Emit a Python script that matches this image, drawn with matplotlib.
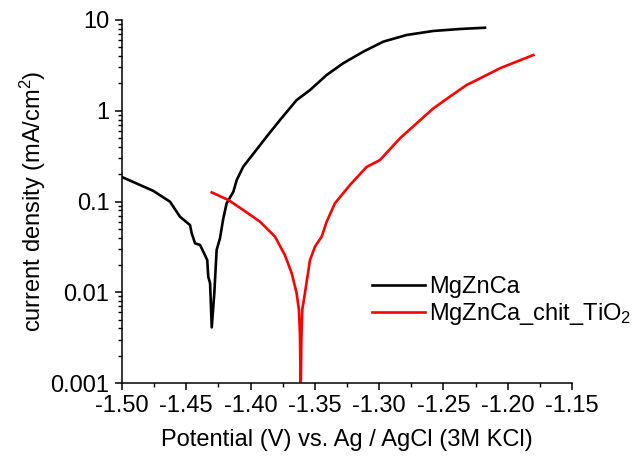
import matplotlib
matplotlib.use("Agg")
import matplotlib.pyplot as plt
from matplotlib.ticker import FixedLocator, LogLocator, NullFormatter, FixedFormatter

plt.rcParams['font.family'] = ['Liberation Sans', 'DejaVu Sans']
plt.rcParams['mathtext.fontset'] = 'custom'
plt.rcParams['mathtext.rm'] = 'Liberation Sans'
plt.rcParams['mathtext.it'] = 'Liberation Sans:italic'
plt.rcParams['mathtext.bf'] = 'Liberation Sans:bold'

# Polarisation curve of bare MgZnCa
v_bare = [-1.500, -1.486, -1.4757, -1.4627, -1.4549, -1.4471, -1.4458, -1.4432,
          -1.4393, -1.4355, -1.4337, -1.4329, -1.4315, -1.4302, -1.4282, -1.4264,
          -1.4238, -1.4212, -1.4186, -1.4134, -1.4108, -1.4057, -1.3966, -1.3875,
          -1.3771, -1.3642, -1.3538, -1.3408, -1.3279, -1.3123, -1.2968, -1.2786,
          -1.2579, -1.2372, -1.2177]
i_bare = [0.186, 0.152, 0.131, 0.0996, 0.068, 0.055, 0.0447, 0.0346,
          0.0332, 0.0257, 0.0226, 0.0148, 0.0126, 0.0041, 0.0098, 0.0292,
          0.0393, 0.0653, 0.0955, 0.128, 0.172, 0.242, 0.354, 0.518,
          0.791, 1.31, 1.69, 2.48, 3.34, 4.48, 5.77, 6.84,
          7.57, 7.96, 8.22]

# Polarisation curve of coated MgZnCa (chitosan / TiO2)
v_coat = [-1.4302, -1.4173, -1.4057, -1.3927, -1.381, -1.3733, -1.368, -1.3642,
          -1.3624, -1.3616, -1.3610, -1.3604, -1.3598, -1.3577, -1.3538, -1.3499,
          -1.3447, -1.3408, -1.3344, -1.3227, -1.3098, -1.2994, -1.2838, -1.2708,
          -1.2579, -1.245, -1.232, -1.219, -1.206, -1.193, -1.1801]
i_coat = [0.126, 0.104, 0.0806, 0.060, 0.041, 0.0257, 0.0162, 0.0098,
          0.0064, 0.0035, 0.0008, 0.0035, 0.0064, 0.0098, 0.0226, 0.0318,
          0.041, 0.060, 0.0955, 0.152, 0.24, 0.286, 0.497, 0.728,
          1.06, 1.43, 1.92, 2.37, 2.94, 3.48, 4.11]

x_ticks = [-1.50, -1.45, -1.40, -1.35, -1.30, -1.25, -1.20, -1.15]
x_tick_labels = ['-1.50', '-1.45', '-1.40', '-1.35', '-1.30', '-1.25', '-1.20', '-1.15']
y_ticks = [0.001, 0.01, 0.1, 1, 10]
y_tick_labels = ['0.001', '0.01', '0.1', '1', '10']

FS = 17

fig = plt.figure(figsize=(6.38, 4.57), dpi=100)
ax = fig.add_axes([122 / 638, 1 - 383 / 457, 450 / 638, 363 / 457])

ax.plot(v_bare, i_bare, color='black', lw=1.9, label='MgZnCa')
ax.plot(v_coat, i_coat, color='#ff0000', lw=1.9, label='MgZnCa_chit_TiO$_2$')

ax.set_yscale('log')
ax.set_xlim(-1.50, -1.15)
ax.set_ylim(0.001, 10)

ax.xaxis.set_major_locator(FixedLocator(x_ticks))
ax.xaxis.set_major_formatter(FixedFormatter(x_tick_labels))
ax.xaxis.set_minor_locator(FixedLocator([t + 0.025 for t in x_ticks[:-1]]))
ax.yaxis.set_major_locator(FixedLocator(y_ticks))
ax.yaxis.set_major_formatter(FixedFormatter(y_tick_labels))
ax.yaxis.set_minor_locator(LogLocator(base=10, subs=range(2, 10)))
ax.yaxis.set_minor_formatter(NullFormatter())

for side in ('top', 'right'):
    ax.spines[side].set_visible(False)
for side in ('left', 'bottom'):
    ax.spines[side].set_linewidth(1.1)

ax.tick_params(which='major', direction='out', length=5, width=1.1, labelsize=FS, pad=4)
ax.tick_params(which='minor', direction='out', length=3, width=1.0)

ax.set_xlabel('Potential (V) vs. Ag / AgCl (3M KCl)', fontsize=FS, labelpad=8)
ax.set_ylabel('current density (mA/cm$^2$)', fontsize=FS, labelpad=2)

ax.legend(loc='upper left', bbox_to_anchor=(372 / 638, 1 - 276 / 457),
          bbox_transform=fig.transFigure, frameon=False, fontsize=FS,
          handlelength=2.25, handletextpad=0.15, labelspacing=0.12,
          borderpad=0, borderaxespad=0)

fig.savefig('out.png', dpi=100)
